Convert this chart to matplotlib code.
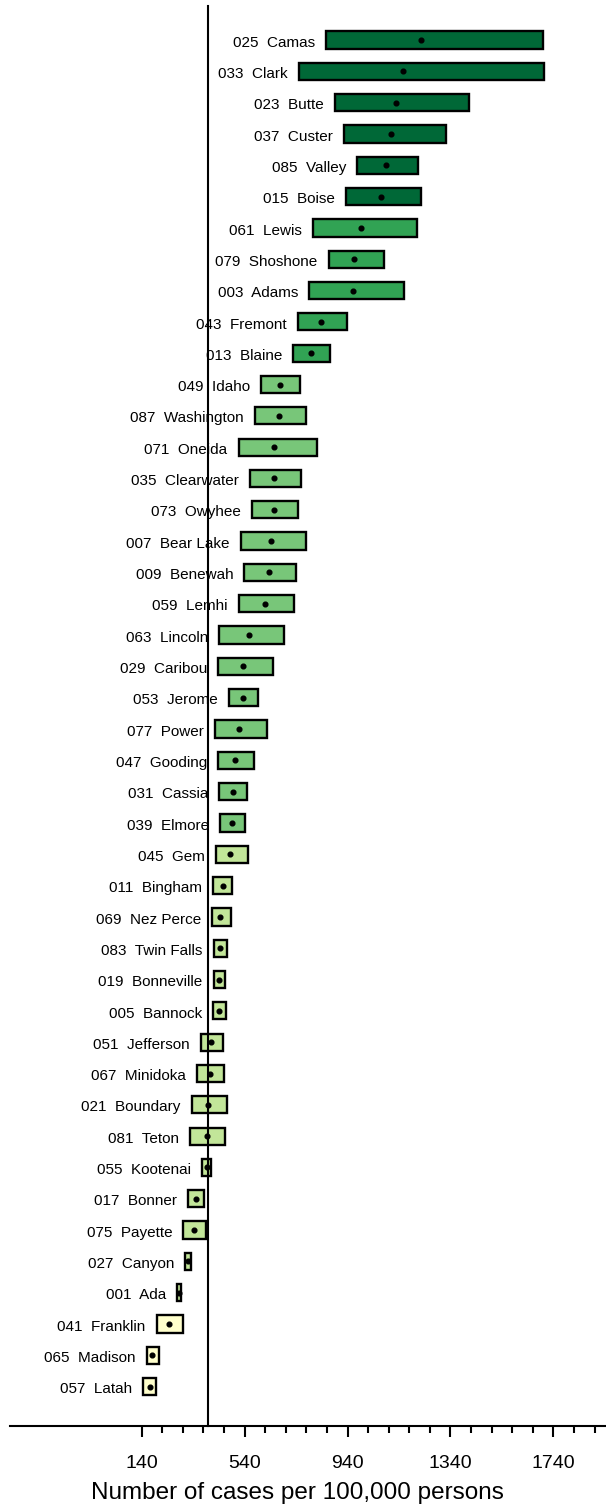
import matplotlib
matplotlib.use('Agg')
import matplotlib.pyplot as plt

plt.rcParams['font.family'] = ['Liberation Sans', 'DejaVu Sans']

# Idaho counties, top to bottom
codes = ['025', '033', '023', '037', '085', '015', '061', '079', '003', '043', '013',
         '049', '087', '071', '035', '073', '007', '009', '059', '063', '029', '053',
         '077', '047', '031', '039', '045', '011', '069', '083', '019', '005', '051',
         '067', '021', '081', '055', '017', '075', '027', '001', '041', '065', '057']
counties = ['Camas', 'Clark', 'Butte', 'Custer', 'Valley', 'Boise', 'Lewis', 'Shoshone',
            'Adams', 'Fremont', 'Blaine', 'Idaho', 'Washington', 'Oneida', 'Clearwater',
            'Owyhee', 'Bear Lake', 'Benewah', 'Lemhi', 'Lincoln', 'Caribou', 'Jerome',
            'Power', 'Gooding', 'Cassia', 'Elmore', 'Gem', 'Bingham', 'Nez Perce',
            'Twin Falls', 'Bonneville', 'Bannock', 'Jefferson', 'Minidoka', 'Boundary',
            'Teton', 'Kootenai', 'Bonner', 'Payette', 'Canyon', 'Ada', 'Franklin',
            'Madison', 'Latah']
# rate per 100,000 with lower / upper confidence limits
rate = [1225, 1155, 1129, 1110, 1091, 1071, 991, 966, 961, 837, 797,
        678, 674, 653, 653, 653, 643, 634, 618, 559, 533, 533,
        520, 504, 494, 490, 485, 455, 446, 445, 440, 441, 410,
        405, 399, 394, 394, 350, 345, 321, 287, 247, 182, 172]
lower = [856, 750, 891, 925, 977, 935, 806, 867, 791, 747, 730,
         604, 581, 517, 560, 568, 525, 539, 517, 442, 437, 480,
         426, 438, 442, 444, 428, 418, 414, 420, 420, 417, 371,
         354, 334, 330, 376, 321, 302, 309, 279, 199, 160, 147]
upper = [1700, 1703, 1413, 1321, 1212, 1224, 1210, 1080, 1158, 937, 872,
         754, 780, 820, 759, 746, 780, 740, 733, 694, 651, 591,
         627, 578, 551, 543, 553, 490, 486, 473, 463, 468, 455,
         459, 473, 465, 410, 384, 390, 333, 294, 300, 209, 195]
group = [0, 0, 0, 0, 0, 0, 1, 1, 1, 1, 1,
         2, 2, 2, 2, 2, 2, 2, 2, 2, 2, 2,
         2, 2, 2, 2, 3, 3, 3, 3, 3, 3, 3,
         3, 3, 3, 3, 3, 3, 3, 3, 4, 4, 4]
state_rate = 400

palette = ['#006837', '#31a354', '#78c679', '#c2e699', '#ffffcc']

fig = plt.figure(figsize=(6.06, 15.06), dpi=100)
ax = fig.add_axes([10 / 606, 80 / 1506, 596 / 606, 1420 / 1506])

n = len(counties)
ypos = [n - 1 - i for i in range(n)]

for i in range(n):
    ax.barh(ypos[i], upper[i] - lower[i], left=lower[i], height=0.55,
            color=palette[group[i]], edgecolor='black', linewidth=1.7, zorder=1)
    ax.annotate(f'{codes[i]}  {counties[i]}', xy=(lower[i], ypos[i]),
                xytext=(-8, -4.8), textcoords='offset points',
                ha='right', va='baseline', fontsize=11, zorder=4)

ax.plot(rate, ypos, 'o', color='black', markersize=3.4, zorder=5)

ax.set_xlim(-371, 1944)
ax.set_ylim(-1.255, n - 1 + 1.086)

ax.spines['top'].set_visible(False)
ax.spines['right'].set_visible(False)
ax.spines['left'].set_position(('data', state_rate))
ax.spines['left'].set_linewidth(1.5)
ax.spines['bottom'].set_linewidth(1.5)
ax.tick_params(axis='y', left=False, labelleft=False)

ax.set_xticks(range(140, 1741, 400))
ax.set_xticks(range(140, 1901, 80), minor=True)
ax.tick_params(axis='x', which='major', length=8, width=1.5, labelsize=14, pad=13)
ax.tick_params(axis='x', which='minor', length=5, width=1.5)
ax.set_xlabel('Number of cases per 100,000 persons', fontsize=17.5)
ax.xaxis.set_label_coords(0.4815, -0.0395)

fig.savefig('out.png', dpi=100)
